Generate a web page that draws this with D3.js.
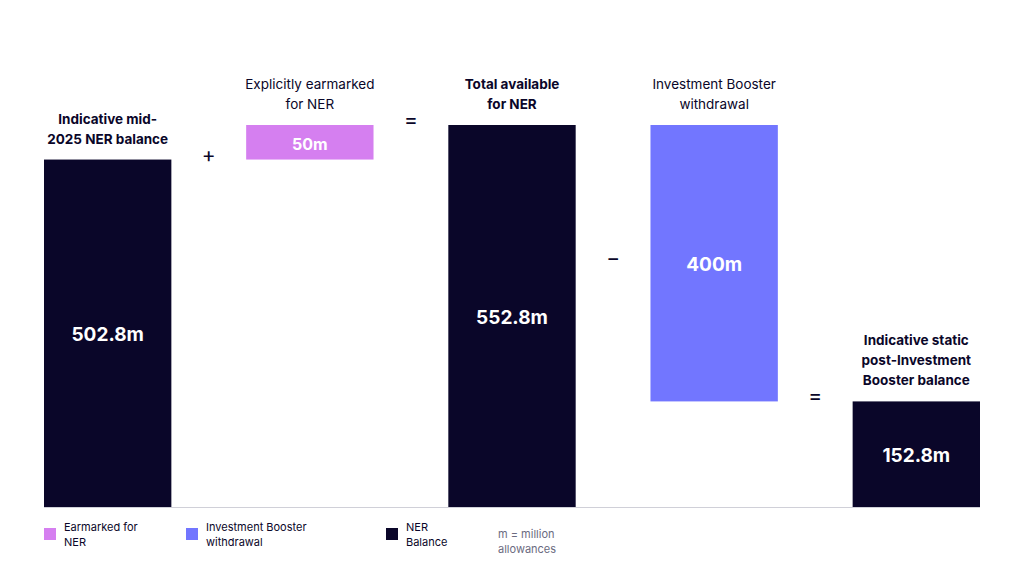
<!DOCTYPE html><html><head><meta charset="utf-8"><script src="https://cdn.jsdelivr.net/npm/d3@7"></script>
<style>body{margin:0;background:#fff}text{font-family:Inter,"Noto Sans",sans-serif}</style></head><body><svg id="c" width="1024" height="571"></svg>
<script>
const categories=["Indicative mid-\n2025 NER balance","Explicitly earmarked\nfor NER","Total available\nfor NER","Investment Booster\nwithdrawal","Indicative static\npost-Investment\nBooster balance"];
const starts=[0,502.8,0,152.8,0];
const ends=[502.8,552.8,552.8,552.8,152.8];
const labels=["502.8m","50m","552.8m","400m","152.8m"];
const types=["bal","ear","bal","wd","bal"];
const operators=["+","=","−","="];
const boldCat=[true,false,true,false,true];
const legendItems=[["Earmarked for\nNER","ear"],["Investment Booster\nwithdrawal","wd"],["NER\nBalance","bal"]];
const colors={bal:"#0a0629",ear:"#d57ff0",wd:"#7276ff"};
const svg=d3.select("#c");
const x=d3.scaleBand().domain(categories).range([44,980]).paddingInner(0.37).paddingOuter(0);
const y=d3.scaleLinear().domain([0,552.8]).range([507,125]);
svg.append("line").attr("x1",44).attr("x2",980).attr("y1",507.5).attr("y2",507.5).attr("stroke","#d0d0d8");
categories.forEach((c,i)=>{
  const x0=x(c),w=x.bandwidth(),top=y(ends[i]),bot=y(starts[i]);
  svg.append("rect").attr("x",x0).attr("y",top).attr("width",w).attr("height",bot-top).attr("fill",colors[types[i]]);
  svg.append("text").attr("x",x0+w/2).attr("y",(top+bot)/2+8).attr("text-anchor","middle").attr("fill","#fff").attr("font-size",i==1?16:19).attr("font-weight",700).text(labels[i]);
  const lines=c.split("\n");
  lines.forEach((l,j)=>svg.append("text").attr("x",x0+w/2).attr("y",top-16-(lines.length-1-j)*20).attr("text-anchor","middle").attr("fill","#0a0629").attr("font-size",13.5).attr("font-weight",boldCat[i]?700:400).text(l));
});
const opY=[155,120,258,396];
operators.forEach((o,i)=>{
  const a=x(categories[i])+x.bandwidth(),b=x(categories[i+1]);
  svg.append("text").attr("x",(a+b)/2).attr("y",opY[i]+7).attr("text-anchor","middle").attr("font-size",21).attr("fill","#0a0629").text(o);
});
const lx=[44,186,386];
legendItems.forEach((it,i)=>{
  svg.append("rect").attr("x",lx[i]).attr("y",528).attr("width",12).attr("height",12).attr("fill",colors[it[1]]);
  it[0].split("\n").forEach((l,j)=>svg.append("text").attr("x",lx[i]+20).attr("y",531+j*15).attr("font-size",11).attr("fill","#0a0629").text(l));
});
["m = million","allowances"].forEach((l,j)=>svg.append("text").attr("x",498).attr("y",538+j*15).attr("font-size",11).attr("fill","#6b6b80").text(l));
</script></body></html>
